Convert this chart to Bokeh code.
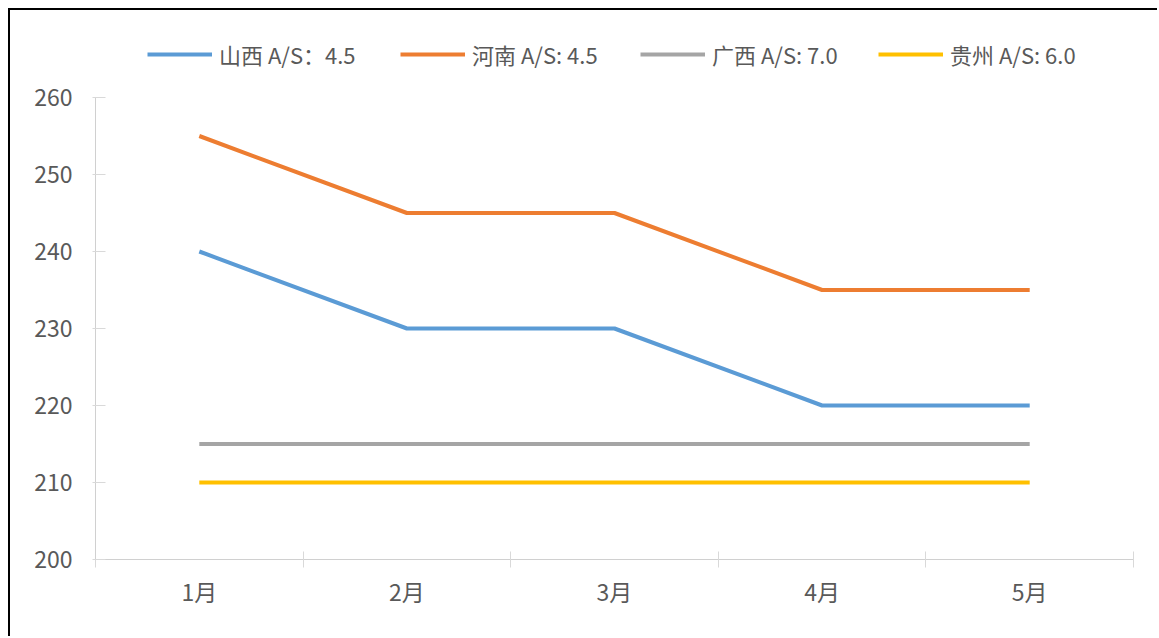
from bokeh.plotting import figure
from bokeh.models import Legend, LegendItem, FixedTicker, Range1d
from bokeh.embed import file_html
from bokeh.resources import INLINE

months = ["1月", "2月", "3月", "4月", "5月"]
shanxi = [240, 230, 230, 220, 220]
henan = [255, 245, 245, 235, 235]
guangxi = [215, 215, 215, 215, 215]
guizhou = [210, 210, 210, 210, 210]
labels = ["山西 A/S：4.5", "河南 A/S: 4.5", "广西 A/S: 7.0", "贵州 A/S: 6.0"]
colors = ["#5B9BD5", "#ED7D31", "#A5A5A5", "#FFC000"]
yticks = [200, 210, 220, 230, 240, 250, 260]

FONT = "Noto Sans CJK SC"
xs = [i + 0.5 for i in range(len(months))]

p = figure(width=1149, height=628, output_backend="svg", toolbar_location=None,
           x_range=Range1d(0, len(months)), y_range=Range1d(200, 270),
           min_border_left=85, min_border_right=26, min_border_top=10, min_border_bottom=79)
p.styles = {"border-left": "2px solid black", "border-top": "2px solid black",
            "margin-left": "8px", "margin-top": "8px"}
p.background_fill_color = "white"
p.border_fill_color = "white"
p.outline_line_color = None
p.xgrid.visible = False
p.ygrid.visible = False

renderers = []
for vals, c in zip([shanxi, henan, guangxi, guizhou], colors):
    r = p.line(xs, vals, line_color=c, line_width=4)
    renderers.append(r)

p.xaxis.ticker = FixedTicker(ticks=xs, minor_ticks=list(range(len(months) + 1)))
p.xaxis.major_label_overrides = {x: m for x, m in zip(xs, months)}
p.xaxis.minor_tick_in = 8
p.xaxis.minor_tick_out = 8
p.xaxis.minor_tick_line_color = "#d9d9d9"
p.yaxis.ticker = FixedTicker(ticks=yticks)
p.yaxis.bounds = (200, 260)
p.yaxis.minor_tick_line_color = None
p.yaxis.major_tick_in = 10
p.yaxis.major_tick_out = 3
for ax in (p.xaxis, p.yaxis):
    ax.axis_line_color = "#d0d0d0"
    ax.major_label_text_font = FONT
    ax.major_label_text_font_size = "23px"
    ax.major_label_text_color = "#595959"
p.xaxis.major_tick_line_color = None
p.yaxis.major_tick_line_color = "#d9d9d9"
p.xaxis.major_label_standoff = 6
p.yaxis.major_label_standoff = 20

legend_x = [52, 305, 545, 783]
for l, r, lx in zip(labels, renderers, legend_x):
    lg = Legend(items=[LegendItem(label=l, renderers=[r])], location=(lx, 489),
                glyph_width=65, glyph_height=26, label_height=26, label_standoff=7,
                padding=0, margin=0, border_line_color=None, background_fill_alpha=0,
                label_text_font=FONT, label_text_font_size="22px", label_text_color="#595959")
    p.add_layout(lg, "center")

open("out.html", "w").write(file_html(p, INLINE))
